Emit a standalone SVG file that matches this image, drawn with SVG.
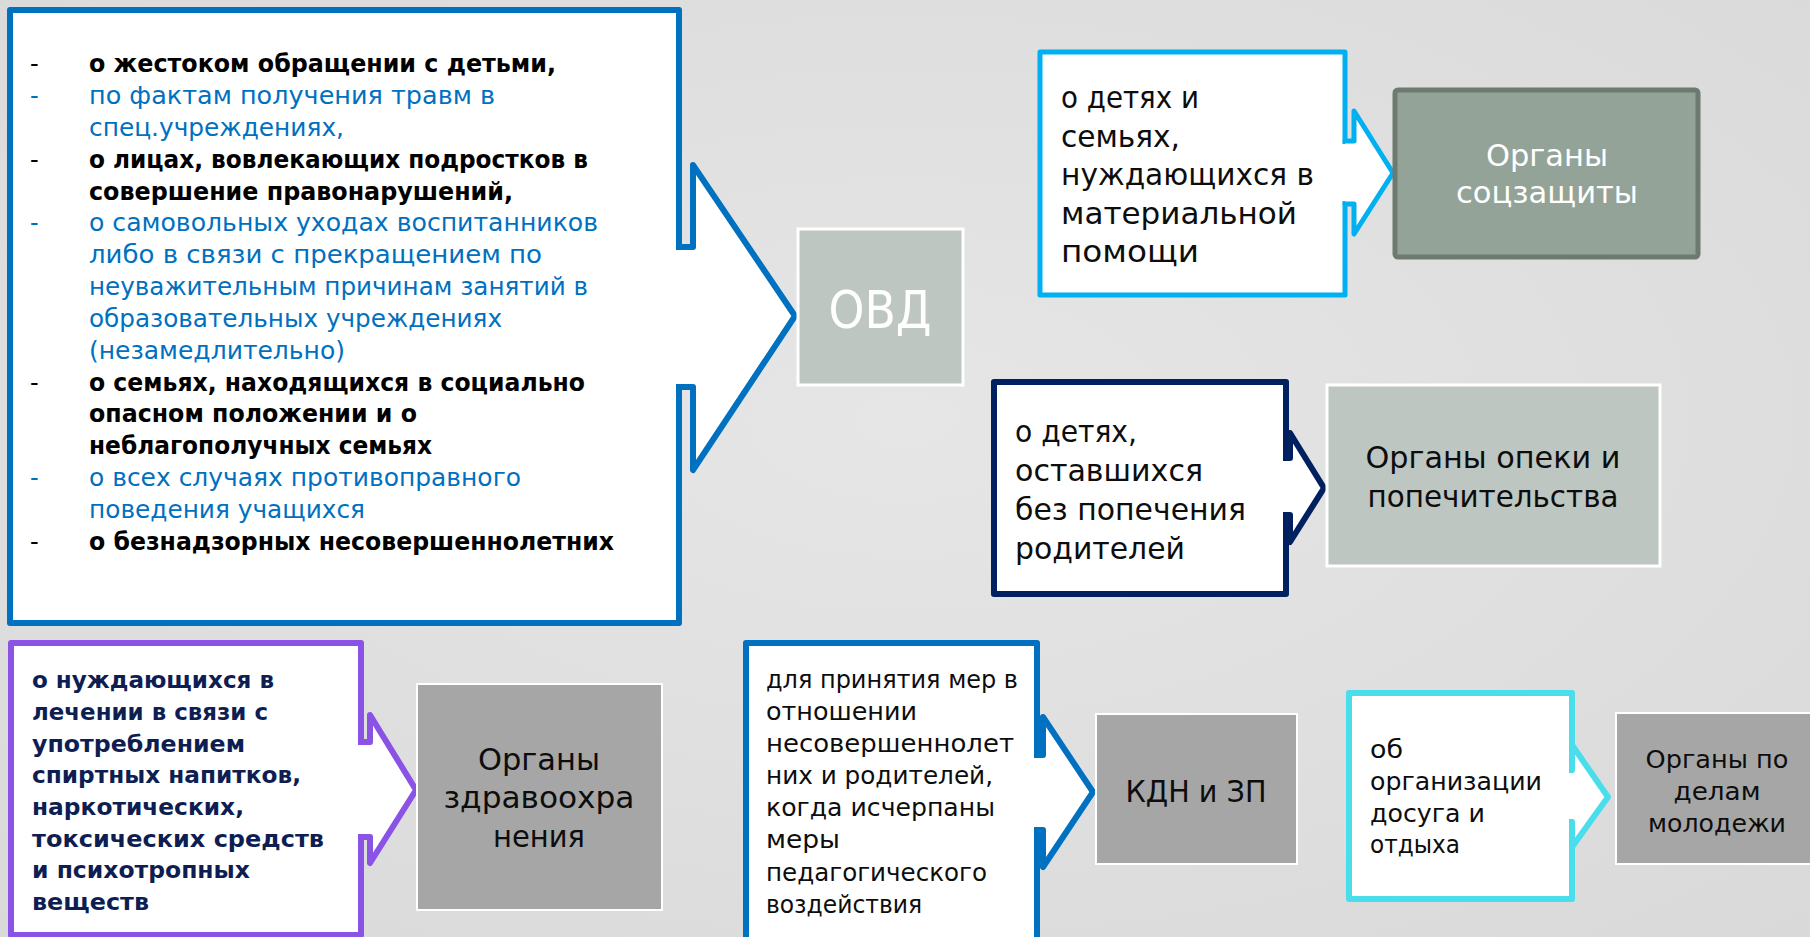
<svg xmlns="http://www.w3.org/2000/svg" width="1810" height="937" viewBox="0 0 1810 937">
<defs>
<radialGradient id="bg" cx="50%" cy="45%" r="75%">
<stop offset="0" stop-color="#E6E6E6"/>
<stop offset="1" stop-color="#D9D9D9"/>
</radialGradient>
</defs>
<style>
text{font-family:"DejaVu Sans","Liberation Sans",sans-serif;}
.b{font-weight:bold}
.k{fill:#000}
.bl{fill:#0070C0}
.nv{fill:#0E1E52}
.body{fill:#fff;stroke-linejoin:round}
.arr{fill:#fff;stroke-linejoin:round;stroke-linecap:round}
.erase{fill:#fff}
.c1{stroke:#0070C0;stroke-width:6}
.c2{stroke:#00B0F0;stroke-width:5}
.c3{stroke:#002060;stroke-width:6}
.c4{stroke:#8B52E6;stroke-width:6}
.c5{stroke:#4ADDEC;stroke-width:6}
.gray{fill:#A6A6A6;stroke:#fff;stroke-width:2}
.sage{fill:#BEC6C1;stroke:#fff;stroke-width:3}
.lbl{font-size:30px;fill:#0D0D0D;text-anchor:middle}
.w{fill:#fff}
.t1{font-size:24px}
.t2{font-size:31px;fill:#0D0D0D}
.t3{font-size:23px}
.t4{font-size:24px;fill:#0D0D0D}
.t5{font-size:25px;fill:#0D0D0D}
.sm{font-size:25px}
</style>
<rect width="1810" height="937" fill="url(#bg)"/>

<g id="node-sources">
<rect class="body c1" x="10" y="10" width="669" height="613"/>
<text class="t1 k" x="30" y="72">-</text>
<text class="t1 b k" x="89" y="72" textLength="467" lengthAdjust="spacingAndGlyphs">о жестоком обращении с детьми,</text>
<text class="t1 bl" x="30" y="104">-</text>
<text class="t1 bl" x="89" y="104" textLength="406" lengthAdjust="spacingAndGlyphs">по фактам получения травм в</text>
<text class="t1 bl" x="89" y="135.5" textLength="255" lengthAdjust="spacingAndGlyphs">спец.учреждениях,</text>
<text class="t1 k" x="30" y="167.5">-</text>
<text class="t1 b k" x="89" y="167.5" textLength="499" lengthAdjust="spacingAndGlyphs">о лицах, вовлекающих подростков в</text>
<text class="t1 b k" x="89" y="199.5" textLength="424" lengthAdjust="spacingAndGlyphs">совершение правонарушений,</text>
<text class="t1 bl" x="30" y="231">-</text>
<text class="t1 bl" x="89" y="231" textLength="509" lengthAdjust="spacingAndGlyphs">о самовольных уходах воспитанников</text>
<text class="t1 bl" x="89" y="263" textLength="453" lengthAdjust="spacingAndGlyphs">либо в связи с прекращением по</text>
<text class="t1 bl" x="89" y="295" textLength="499" lengthAdjust="spacingAndGlyphs">неуважительным причинам занятий в</text>
<text class="t1 bl" x="89" y="327" textLength="413" lengthAdjust="spacingAndGlyphs">образовательных учреждениях</text>
<text class="t1 bl" x="89" y="358.5" textLength="256" lengthAdjust="spacingAndGlyphs">(незамедлительно)</text>
<text class="t1 k" x="30" y="390.5">-</text>
<text class="t1 b k" x="89" y="390.5" textLength="496" lengthAdjust="spacingAndGlyphs">о семьях, находящихся в социально</text>
<text class="t1 b k" x="89" y="422" textLength="328" lengthAdjust="spacingAndGlyphs">опасном положении и о</text>
<text class="t1 b k" x="89" y="454" textLength="343" lengthAdjust="spacingAndGlyphs">неблагополучных семьях</text>
<text class="t1 bl" x="30" y="486">-</text>
<text class="t1 bl" x="89" y="486" textLength="432" lengthAdjust="spacingAndGlyphs">о всех случаях противоправного</text>
<text class="t1 bl" x="89" y="518" textLength="276" lengthAdjust="spacingAndGlyphs">поведения учащихся</text>
<text class="t1 k" x="30" y="550">-</text>
<text class="t1 b k" x="89" y="550" textLength="525" lengthAdjust="spacingAndGlyphs">о безнадзорных несовершеннолетних</text>
</g>

<g id="node-soc-info">
<rect class="body c2" x="1040" y="52" width="305" height="243"/>
<text class="t2" x="1061" y="108" textLength="138" lengthAdjust="spacingAndGlyphs">о детях и</text>
<text class="t2" x="1061" y="146.5" textLength="119" lengthAdjust="spacingAndGlyphs">семьях,</text>
<text class="t2" x="1061" y="185" textLength="253" lengthAdjust="spacingAndGlyphs">нуждающихся в</text>
<text class="t2" x="1061" y="223.5" textLength="236" lengthAdjust="spacingAndGlyphs">материальной</text>
<text class="t2" x="1061" y="262" textLength="138" lengthAdjust="spacingAndGlyphs">помощи</text>
</g>

<g id="node-opeka-info">
<rect class="body c3" x="994" y="382" width="292" height="212"/>
<text class="t2" x="1015" y="442" textLength="122" lengthAdjust="spacingAndGlyphs">о детях,</text>
<text class="t2" x="1015" y="481" textLength="188" lengthAdjust="spacingAndGlyphs">оставшихся</text>
<text class="t2" x="1015" y="520" textLength="231" lengthAdjust="spacingAndGlyphs">без попечения</text>
<text class="t2" x="1015" y="559" textLength="170" lengthAdjust="spacingAndGlyphs">родителей</text>
</g>

<g id="node-health-info">
<rect class="body c4" x="11" y="643" width="350" height="292"/>
<text class="t3 b nv" x="32" y="688" textLength="242" lengthAdjust="spacingAndGlyphs">о нуждающихся в</text>
<text class="t3 b nv" x="32" y="720" textLength="236" lengthAdjust="spacingAndGlyphs">лечении в связи с</text>
<text class="t3 b nv" x="32" y="752" textLength="213" lengthAdjust="spacingAndGlyphs">употреблением</text>
<text class="t3 b nv" x="32" y="783" textLength="269" lengthAdjust="spacingAndGlyphs">спиртных напитков,</text>
<text class="t3 b nv" x="32" y="815" textLength="212" lengthAdjust="spacingAndGlyphs">наркотических,</text>
<text class="t3 b nv" x="32" y="847" textLength="292" lengthAdjust="spacingAndGlyphs">токсических средств</text>
<text class="t3 b nv" x="32" y="878" textLength="218" lengthAdjust="spacingAndGlyphs">и психотропных</text>
<text class="t3 b nv" x="32" y="910" textLength="117" lengthAdjust="spacingAndGlyphs">веществ</text>
</g>

<g id="node-kdn-info">
<rect class="body c1" x="746" y="643" width="291" height="310"/>
<text class="t4" x="766" y="688" textLength="252" lengthAdjust="spacingAndGlyphs">для принятия мер в</text>
<text class="t4" x="766" y="720" textLength="151" lengthAdjust="spacingAndGlyphs">отношении</text>
<text class="t4" x="766" y="752" textLength="248" lengthAdjust="spacingAndGlyphs">несовершеннолет</text>
<text class="t4" x="766" y="784" textLength="227" lengthAdjust="spacingAndGlyphs">них и родителей,</text>
<text class="t4" x="766" y="816" textLength="229" lengthAdjust="spacingAndGlyphs">когда исчерпаны</text>
<text class="t4" x="766" y="848" textLength="74" lengthAdjust="spacingAndGlyphs">меры</text>
<text class="t4" x="766" y="881" textLength="221" lengthAdjust="spacingAndGlyphs">педагогического</text>
<text class="t4" x="766" y="913" textLength="156" lengthAdjust="spacingAndGlyphs">воздействия</text>
</g>

<g id="node-youth-info">
<rect class="body c5" x="1349" y="693" width="223" height="206"/>
<text class="t5" x="1370" y="758" textLength="33" lengthAdjust="spacingAndGlyphs">об</text>
<text class="t5" x="1370" y="790" textLength="172" lengthAdjust="spacingAndGlyphs">организации</text>
<text class="t5" x="1370" y="822" textLength="115" lengthAdjust="spacingAndGlyphs">досуга и</text>
<text class="t5" x="1370" y="853" textLength="90" lengthAdjust="spacingAndGlyphs">отдыха</text>
</g>

<g id="connectors">
<rect class="erase" x="675" y="250" width="8" height="134"/>
<path class="arr c1" d="M679,247 H693 V165 L795,316 L693,470 V387 H679"/>
<rect class="erase" x="1341" y="144" width="7" height="57"/>
<path class="arr c2" d="M1345,141 H1354 V111 L1393,173 L1354,234 V204 H1345"/>
<rect class="erase" x="1282" y="461" width="7" height="51"/>
<path class="arr c3" d="M1286,458 H1290 V433 L1324,488 L1290,542 V515 H1286"/>
<rect class="erase" x="357" y="745" width="8" height="89"/>
<path class="arr c4" d="M361,742 H370 V715 L416,790 L370,863 V837 H361"/>
<rect class="erase" x="1033" y="758" width="8" height="69"/>
<path class="arr c1" d="M1037,755 H1043 V717 L1093,792 L1043,867 V830 H1037"/>
<rect class="erase" x="1568" y="773" width="6" height="46"/>
<path class="arr c5" d="M1572,770 V745 L1608,797 L1572,847 V822"/>
</g>

<g id="node-ovd">
<rect class="sage" x="798" y="229" width="165" height="156"/>
<text class="w" x="880" y="328" font-size="52" text-anchor="middle" textLength="103" lengthAdjust="spacingAndGlyphs">ОВД</text>
</g>

<g id="node-soc">
<rect x="1395" y="90" width="303" height="167" rx="3" fill="#94A398" stroke="#6D7A70" stroke-width="5"/>
<text class="lbl w" x="1547" y="166" textLength="122" lengthAdjust="spacingAndGlyphs">Органы</text>
<text class="lbl w" x="1547" y="203" textLength="182" lengthAdjust="spacingAndGlyphs">соцзащиты</text>
</g>

<g id="node-opeka">
<rect class="sage" x="1327" y="385" width="333" height="181" stroke-width="2"/>
<text class="lbl" x="1493" y="468" textLength="255" lengthAdjust="spacingAndGlyphs">Органы опеки и</text>
<text class="lbl" x="1493" y="507" textLength="251" lengthAdjust="spacingAndGlyphs">попечительства</text>
</g>

<g id="node-health">
<rect class="gray" x="417" y="684" width="245" height="226"/>
<text class="lbl" x="539" y="770" textLength="122" lengthAdjust="spacingAndGlyphs">Органы</text>
<text class="lbl" x="539" y="808" textLength="191" lengthAdjust="spacingAndGlyphs">здравоохра</text>
<text class="lbl" x="539" y="847" textLength="92" lengthAdjust="spacingAndGlyphs">нения</text>
</g>

<g id="node-kdn">
<rect class="gray" x="1096" y="714" width="201" height="150"/>
<text class="lbl" x="1196" y="802" textLength="141" lengthAdjust="spacingAndGlyphs">КДН и ЗП</text>
</g>

<g id="node-youth">
<rect class="gray" x="1616" y="713" width="200" height="151"/>
<text class="lbl sm" x="1717" y="768" textLength="143" lengthAdjust="spacingAndGlyphs">Органы по</text>
<text class="lbl sm" x="1717" y="800" textLength="87" lengthAdjust="spacingAndGlyphs">делам</text>
<text class="lbl sm" x="1717" y="832" textLength="138" lengthAdjust="spacingAndGlyphs">молодежи</text>
</g>
</svg>
